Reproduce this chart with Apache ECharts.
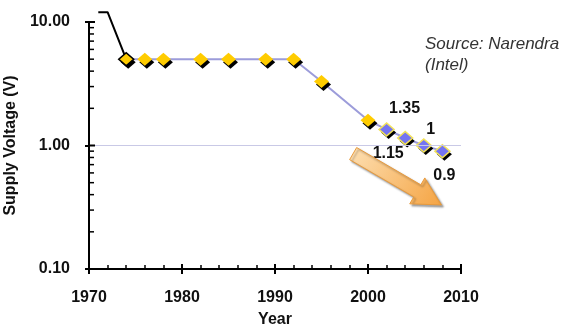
<!DOCTYPE html>
<html><head><meta charset="utf-8">
<script src="https://cdn.jsdelivr.net/npm/echarts@6/dist/echarts.min.js"></script>
<style>html,body{margin:0;padding:0;background:#fff}#c{width:572px;height:327px}</style>
</head><body><div id="c"></div>
<script>
// early trend (black line)
const earlyYears = [1971, 1972, 1974];
const earlyVolts = [12, 12, 5];
// yellow diamond points
const yellowYears = [1974, 1976, 1978, 1982, 1985, 1989, 1992, 1995, 2000];
const yellowVolts = [5, 5, 5, 5, 5, 5, 5, 3.3, 1.6];
// blue diamond points (labelled)
const blueYears = [2002, 2004, 2006, 2008];
const blueVolts = [1.35, 1.15, 1, 0.9];
const blueLabels = ['1.35', '1.15', '1', '0.9'];
// axis ticks
const yMajorTicks = [0.1, 1, 10];
const yMinorTicks = [0.2, 0.3, 0.4, 0.5, 0.6, 0.7, 0.8, 0.9, 2, 3, 4, 5, 6, 7, 8, 9];
const xTickLabels = ['1970', '1980', '1990', '2000', '2010'];
// arrow annotation (data coords: tail, tip)
const arrowTail = [1998.4, 0.86];
const arrowTip = [2007.9, 0.33];

const labelOffsets = [[18, -21], [-17, 16], [7, -16], [2, 24]];
const font = 'Liberation Sans, Arial, sans-serif';

const chart = echarts.init(document.getElementById('c'), null, {renderer: 'canvas'});

const allPoints = yellowYears.map((y, i) => [y, yellowVolts[i]])
  .concat(blueYears.map((y, i) => [y, blueVolts[i]]));
const yellowData = yellowYears.map((y, i) => ({
  value: [y, yellowVolts[i]],
  itemStyle: i === 0 ? {borderColor: '#000', borderWidth: 1.5} : {}
}));
const blueData = blueYears.map((y, i) => ({
  value: [y, blueVolts[i]],
  label: {show: true, position: 'inside', offset: labelOffsets[i], formatter: blueLabels[i],
    fontFamily: font, fontWeight: 'bold', fontSize: 16, color: '#111', opacity: 1,
    textShadowColor: 'transparent', textShadowBlur: 0, textBorderWidth: 0}
}));

function tickSeries(values, x0, len, off, width) {
  return {
    type: 'custom', silent: true, clip: false, z: 6,
    data: values.map(v => [x0, v]),
    renderItem: function (params, api) {
      const p = api.coord([api.value(0), api.value(1)]);
      return {
        type: 'line',
        shape: {x1: p[0] + off, y1: p[1], x2: p[0] + off + len, y2: p[1]},
        style: {stroke: '#000', lineWidth: width}
      };
    }
  };
}

const option = {
  animation: false,
  backgroundColor: '#fff',
  title: {
    text: 'Source: Narendra\n(Intel)', left: 425, top: 34, padding: 0,
    textStyle: {fontFamily: font, fontStyle: 'italic', fontWeight: 'normal', fontSize: 17, color: '#333', lineHeight: 21}
  },
  grid: {left: 89, right: 111, top: 22, bottom: 58, outerBoundsMode: 'none', containLabel: false},
  xAxis: [{
    type: 'value', min: 1970, max: 2010, interval: 10, position: 'bottom',
    name: 'Year', nameLocation: 'middle', nameGap: 43,
    nameTextStyle: {fontFamily: font, fontWeight: 'bold', fontSize: 16, color: '#111'},
    axisLine: {show: true, lineStyle: {color: '#000', width: 2}},
    axisTick: {show: true, inside: true, length: 5, lineStyle: {color: '#000', width: 2}},
    minorTick: {show: true, splitNumber: 5, length: 4, lineStyle: {color: '#000', width: 1.5}},
    splitLine: {show: false},
    axisLabel: {margin: 21, fontFamily: font, fontWeight: 'bold', fontSize: 16, color: '#111',
      formatter: (v) => xTickLabels[Math.round((v - 1970) / 10)] || ''}
  }, {
    type: 'value', min: 1970, max: 2010, interval: 10, position: 'bottom', gridIndex: 0,
    axisLine: {show: false},
    axisTick: {show: true, inside: false, length: 5, lineStyle: {color: '#000', width: 2}},
    axisLabel: {show: false}, splitLine: {show: false}
  }],
  yAxis: {
    type: 'log', min: 0.1, max: 10, logBase: 10,
    name: 'Supply Voltage (V)', nameLocation: 'middle', nameGap: 61,
    nameTextStyle: {fontFamily: font, fontWeight: 'bold', fontSize: 16, color: '#111'},
    axisLine: {show: true, lineStyle: {color: '#000', width: 2}},
    axisTick: {show: true, inside: false, length: 4, lineStyle: {color: '#000', width: 2}},
    splitLine: {show: false},
    axisLabel: {margin: 19, fontFamily: font, fontWeight: 'bold', fontSize: 16, color: '#111',
      formatter: (v) => Number(v).toFixed(2)}
  },
  series: [
    {
      type: 'line', data: earlyYears.map((y, i) => [y, earlyVolts[i]]), symbol: 'none', clip: false,
      lineStyle: {color: '#000', width: 2}, z: 2, silent: true
    },
    {
      type: 'line', data: allPoints, symbol: 'none', lineStyle: {color: '#9c9cda', width: 2}, z: 2,
      markLine: {silent: true, symbol: 'none', label: {show: false},
        lineStyle: {color: '#c9c9e6', width: 1, type: 'solid'}, data: [{yAxis: 1}]}
    },
    {
      // drop shadows of the diamonds
      type: 'scatter', data: allPoints, symbol: 'diamond', symbolSize: [15, 13], symbolOffset: [2, 3],
      itemStyle: {color: '#000', opacity: 1}, z: 3, silent: true
    },
    {
      type: 'scatter', data: yellowData, symbol: 'diamond', symbolSize: [15, 13],
      itemStyle: {color: '#ffcc00', opacity: 1}, z: 4
    },
    {
      type: 'scatter', data: blueData, symbol: 'diamond', symbolSize: [15, 13],
      itemStyle: {color: '#7474f2', borderColor: '#f2e25a', borderWidth: 1.5, opacity: 1}, z: 4
    },
    tickSeries(yMinorTicks, 1970, 5, 0, 1.5),
    tickSeries(yMajorTicks, 1970, 6, 0, 2)
  ]
};
chart.setOption(option);

// arrow annotation
const p0 = chart.convertToPixel({gridIndex: 0}, arrowTail);
const p1 = chart.convertToPixel({gridIndex: 0}, arrowTip);
const dx = p1[0] - p0[0], dy = p1[1] - p0[1];
const L = Math.hypot(dx, dy);
const ux = dx / L, uy = dy / L, nx = -uy, ny = ux;
const headLen = 28, headHalf = 15, shaftHalf = 7;
const bx = p1[0] - ux * headLen, by = p1[1] - uy * headLen;
const pts = [
  [p0[0] + nx * shaftHalf, p0[1] + ny * shaftHalf],
  [bx + nx * shaftHalf, by + ny * shaftHalf],
  [bx + nx * headHalf, by + ny * headHalf],
  [p1[0], p1[1]],
  [bx - nx * headHalf, by - ny * headHalf],
  [bx - nx * shaftHalf, by - ny * shaftHalf],
  [p0[0] - nx * shaftHalf, p0[1] - ny * shaftHalf]
];
chart.setOption({
  graphic: [{
    type: 'polygon', shape: {points: pts}, z: 10,
    style: {
      fill: new echarts.graphic.LinearGradient(0, 0, 1, 1, [
        {offset: 0, color: '#fde0b4'}, {offset: 1, color: '#f5a443'}]),
      stroke: '#e89a3c', lineWidth: 1,
      shadowColor: 'rgba(0,0,0,0.35)', shadowBlur: 2, shadowOffsetX: 2, shadowOffsetY: 2
    }
  }]
});
</script></body></html>
